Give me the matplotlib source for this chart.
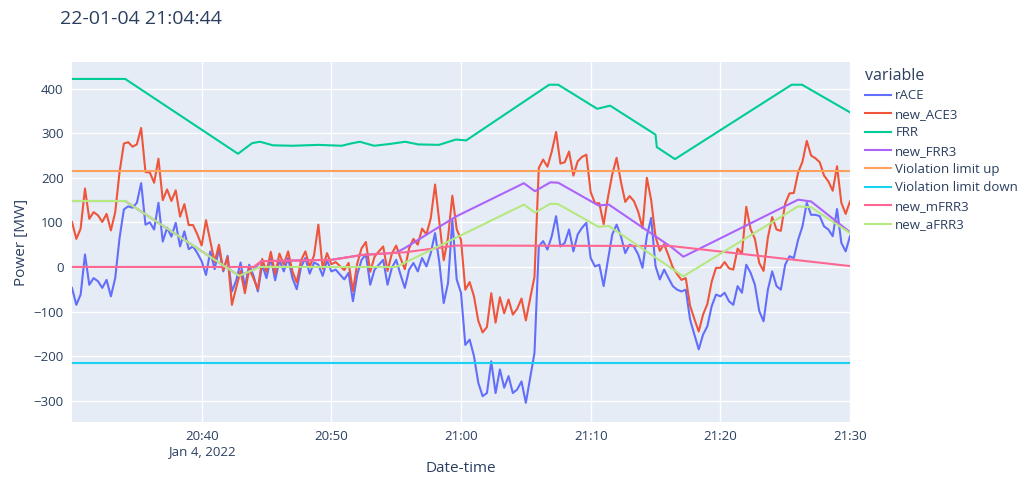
import matplotlib.pyplot as plt
import matplotlib.dates as mdates
from datetime import datetime, timedelta

plt.rcParams['font.family'] = ['Open Sans', 'DejaVu Sans']

start = datetime(2022, 1, 4, 20, 30, 0)

# noisy series, one value every 20 s from 20:30:00 to 21:30:00
race = [-47, -85, -62, 28, -40, -25, -32, -47, -29, -66, -25,
        65, 129, 136, 133, 144, 188, 95, 100, 84, 144,
        57, 88, 68, 99, 46, 80, 40, 46, 31, 13,
        -18, 35, -5, 40, -10, 25, -55, -30, 10, -45,
        5, -20, -55, 5, -25, 20, -30, 15, -10, 20,
        -25, -50, 0, 20, -15, 10, 5, -20, 15, -10,
        -6, -17, -28, -13, -77, -17, 16, 28, -40, -6,
        5, 16, -40, -2, 16, -17, -47, -6, 9, -10,
        20, 1, 31, 76, 9, -81, -36, 105, -28, -58,
        -175, -163, -200, -260, -290, -283, -212, -283, -230, -271,
        -245, -283, -275, -257, -305, -249, -193, 46, 58, 39,
        69, 114, 46, 54, 84, 35, 73, 88, 99, 20,
        1, 5, -43, 16, 73, 95, 69, 31, 50, 46,
        28, -2, 69, 110, 2, -28, -6, -25, -43, -51,
        -55, -51, -118, -152, -185, -152, -133, -88, -62, -66,
        -58, -77, -85, -43, -58, 5, -13, -40, -99, -122,
        -51, -10, -43, -51, 5, 24, 20, 61, 91, 144,
        117, 117, 114, 91, 84, 69, 130, 54, 35, 69]

new_ace3 = [101, 63, 86, 176, 108, 123, 116, 101, 119, 82, 123,
            213, 277, 280, 270, 275, 312, 213, 212, 189, 243,
            150, 174, 148, 172, 113, 141, 94, 94, 73, 48,
            105, 58, 11, 50, -7, 22, -85, -46, -9, -59,
            -4, -26, -50, 18, -11, 34, -16, 30, 5, 35,
            -10, -35, 15, 35, 0, 26, 95, -4, 31, 6,
            11, 2, -7, 9, -54, 8, 42, 56, -11, 23,
            35, 46, -9, 30, 48, 20, -5, 42, 63, 50,
            86, 73, 109, 185, 99, 15, 66, 160, 85, 61,
            -51, -34, -66, -121, -147, -135, -59, -125, -68, -104,
            -73, -107, -94, -71, -120, -71, -22, 222, 241, 225,
            259, 303, 232, 235, 259, 205, 237, 247, 252, 168,
            143, 143, 96, 156, 208, 245, 191, 146, 159, 148,
            124, 87, 200, 150, 68, 36, 51, 26, -1, -16,
            -29, -25, -87, -117, -145, -107, -83, -33, -2, -2,
            11, -3, -6, 41, 30, 135, 85, 63, 9, -9,
            66, 112, 84, 81, 142, 165, 166, 212, 236, 283,
            250, 244, 235, 205, 192, 171, 226, 144, 119, 147]

# smooth series: (minutes after 20:30, value) at the line's corners
frr_min = [0, 4.1, 12.8, 13.9, 14.5, 15.5, 17, 19, 20.8, 21.5, 22.2, 23.3, 24.5, 25.7,
           26.7, 28.3, 29.6, 30.4, 36.8, 37.5, 40.5, 41.5, 45.0, 45.1, 46.5, 55.5, 56.3, 60]
frr_val = [422, 422, 254, 278, 281, 273, 272, 274, 272, 277, 281, 272, 276, 281,
           275, 274, 286, 284, 409, 409, 355, 362, 297, 269, 242, 409, 409, 347]

frr3_min = [0, 4.1, 12.9, 14.0, 14.6, 20, 22.4, 25.0, 25.7, 29.6, 34.85, 35.7, 36.9,
            37.5, 40.6, 41.4, 46.2, 47.15, 56.0, 57.0, 60]
frr3_val = [148, 148, -20, -6, 13, 16, 27, 32, 43, 113, 188, 170, 190,
            189, 138, 140, 45, 23, 151, 147, 78]

mfrr3_min = [0, 14.0, 14.6, 20, 22.4, 25.7, 29.6, 46.2, 60]
mfrr3_val = [0, 0, 13, 16, 27, 33, 48, 47, 2]

afrr3_min = [0, 4.1, 12.9, 14.5, 25.0, 34.85, 35.7, 36.9, 37.5, 40.6, 41.4, 47.15, 56.0, 57.0, 60]
afrr3_val = [148, 148, -20, 0, 0, 140, 122, 142, 141, 90, 92, -21, 136, 134, 76]

limit_up = 216
limit_down = -216

tick_min = [10, 20, 30, 40, 50, 60]
tick_labels = ["20:40\nJan 4, 2022", "20:50", "21:00", "21:10", "21:20", "21:30"]


def to_time(mins):
    return [start + timedelta(minutes=m) for m in mins]


t = [start + timedelta(seconds=20 * i) for i in range(len(race))]
t_ends = [t[0], t[-1]]

fig = plt.figure(figsize=(10.19, 4.78), dpi=100)
ax = fig.add_axes([72 / 1019, 1 - 422 / 478, (850 - 72) / 1019, (422 - 62) / 478])
ax.set_facecolor('#E5ECF6')

lw = 1.5
ax.plot(t, race, color='#636EFA', lw=lw, label='rACE')
ax.plot(t, new_ace3, color='#EF553B', lw=lw, label='new_ACE3')
ax.plot(to_time(frr_min), frr_val, color='#00CC96', lw=lw, label='FRR')
ax.plot(to_time(frr3_min), frr3_val, color='#AB63FA', lw=lw, label='new_FRR3')
ax.plot(t_ends, [limit_up, limit_up], color='#FFA15A', lw=lw, label='Violation limit up')
ax.plot(t_ends, [limit_down, limit_down], color='#19D3F3', lw=lw, label='Violation limit down')
ax.plot(to_time(mfrr3_min), mfrr3_val, color='#FF6692', lw=lw, label='new_mFRR3')
ax.plot(to_time(afrr3_min), afrr3_val, color='#B6E880', lw=lw, label='new_aFRR3')

ax.set_xlim(t[0], t[-1])
ax.set_ylim(-348, 460)
ax.set_yticks([-300, -200, -100, 0, 100, 200, 300, 400])
ax.set_xticks(to_time(tick_min))
ax.set_xticklabels(tick_labels)
ax.grid(True, color='white', lw=1)
ax.set_axisbelow(True)
for s in ax.spines.values():
    s.set_visible(False)
ax.tick_params(length=0, labelsize=9.5, colors='#2a3f5f', pad=6)

ax.set_ylabel("Power [MW]", fontsize=11, color='#2a3f5f')
ax.yaxis.set_label_coords(-0.055, 0.5)
ax.set_xlabel("Date-time", fontsize=11, color='#2a3f5f')
ax.xaxis.set_label_coords(0.5, -0.108)

fig.text(60 / 1019, 1 - 19 / 478, "22-01-04 21:04:44", fontsize=14, color='#2a3f5f', va='center')

leg = fig.legend(loc='upper left', bbox_to_anchor=(865 / 1019, 1 - 68 / 478), frameon=False,
                 title='variable', fontsize=9.5, title_fontsize=11.5, handlelength=2.0,
                 labelspacing=0.41, handletextpad=0.3, borderaxespad=0, borderpad=0)
leg._legend_box.align = 'left'
leg.get_title().set_color('#2a3f5f')
for txt in leg.get_texts():
    txt.set_color('#2a3f5f')

fig.savefig('out.png', dpi=100, facecolor='white')
